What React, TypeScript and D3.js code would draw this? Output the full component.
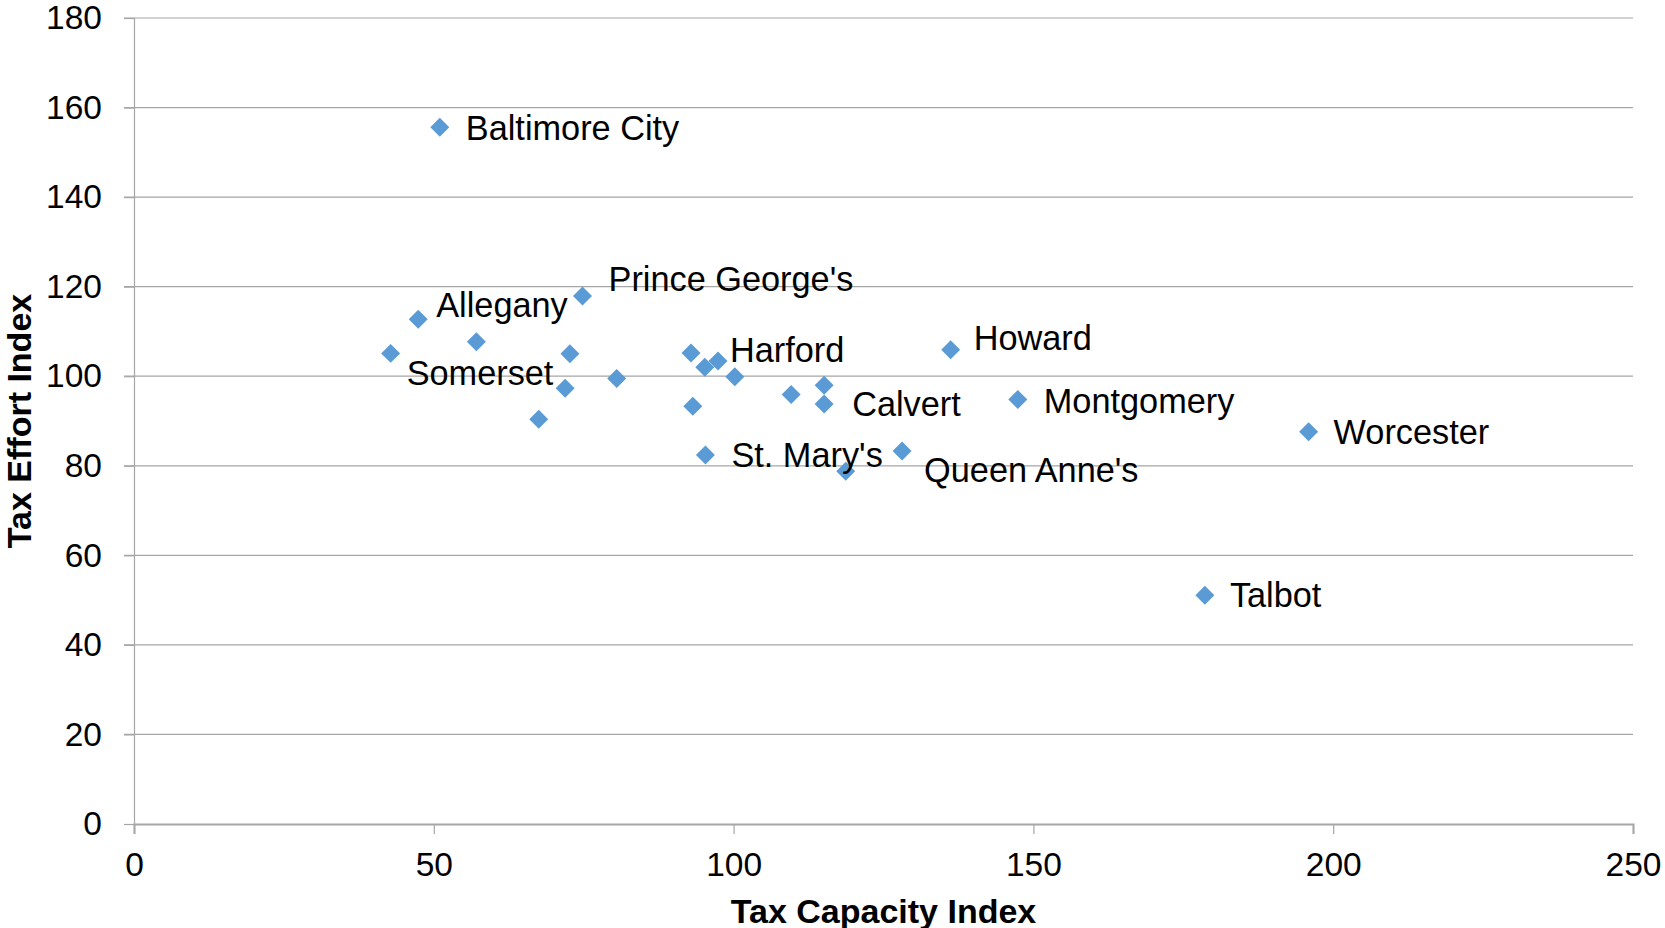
// App.tsx
import React, {useEffect, useRef} from "react";
import * as d3 from "d3";

// Tax capacity (x) vs tax effort (y), Maryland jurisdictions
const taxCapacity = [
    51.0, 47.4, 74.8, 42.8, 57.1, 72.7, 92.9, 95.2, 97.4, 100.2, 80.5, 71.9,
    109.6, 115.1, 115.1, 93.2, 67.5, 95.3, 118.7, 128.1, 136.2, 147.4, 195.9, 178.6,
];
const taxEffort = [
    155.6, 112.7, 117.9, 105.1, 107.7, 105.0, 105.2, 102.0, 103.4, 99.9, 99.5, 97.3,
    95.9, 98.0, 93.8, 93.3, 90.4, 82.4, 78.8, 83.3, 105.9, 94.8, 87.6, 51.1,
];
const pointLabels = [
    "Baltimore City", "Allegany", "Prince George's", "Somerset", "", "", "", "", "Harford", "", "", "",
    "", "", "Calvert", "", "", "St. Mary's", "", "Queen Anne's", "Howard", "Montgomery", "Worcester", "Talbot",
];
const xTicks = [0, 50, 100, 150, 200, 250];
const yTicks = [0, 20, 40, 60, 80, 100, 120, 140, 160, 180];

// label nudges (px) from each marker, like hand-moved Excel data labels
const labelShift: Record<string, [number, number]> = {
    "Baltimore City": [26, 1],
    "Allegany": [18, -14],
    "Prince George's": [26, -17],
    "Somerset": [16, 20],
    "Harford": [12, -11],
    "Calvert": [28, 0],
    "St. Mary's": [26, 0],
    "Queen Anne's": [22, 19],
    "Howard": [23, -12],
    "Montgomery": [26, 1],
    "Worcester": [25, 0],
    "Talbot": [25, 0],
};

const width = 1665;
const height = 928;

export default function App() {
    const svgRef = useRef<SVGSVGElement | null>(null);

    useEffect(() => {
        if (!svgRef.current) return;
        const svg = d3.select(svgRef.current);
        svg.selectAll("*").remove();

        const margin = {top: 18, right: 32, bottom: 104, left: 134};
        const x = d3.scaleLinear().domain([0, 250]).range([margin.left, width - margin.right]);
        const y = d3.scaleLinear().domain([0, 180]).range([height - margin.bottom, margin.top]);
        const font = "Liberation Sans, Arial, sans-serif";
        const gridColor = "#a6a6a6";

        // horizontal gridlines (start at tick length left of axis)
        svg.append("g")
            .selectAll("line")
            .data(yTicks.filter((t) => t !== 0))
            .enter()
            .append("line")
            .attr("x1", x(0) - 10)
            .attr("x2", x(250))
            .attr("y1", (d) => y(d))
            .attr("y2", (d) => y(d))
            .attr("stroke", gridColor)
            .attr("stroke-width", 1.2);

        // y axis
        const yAxis = svg.append("g")
            .attr("transform", `translate(${x(0)},0)`)
            .call(d3.axisLeft(y).tickValues(yTicks).tickSize(10).tickPadding(22));
        yAxis.select(".domain").attr("stroke", gridColor).attr("stroke-width", 1.2);
        yAxis.selectAll(".tick line").attr("stroke", gridColor).attr("stroke-width", 1.2);
        yAxis.selectAll(".tick text")
            .attr("fill", "#000")
            .style("font-family", font)
            .style("font-size", "33.5px");

        // x axis
        const xAxis = svg.append("g")
            .attr("transform", `translate(0,${y(0)})`)
            .call(d3.axisBottom(x).tickValues(xTicks).tickSize(10).tickPadding(18));
        xAxis.select(".domain").attr("stroke", gridColor).attr("stroke-width", 2);
        xAxis.selectAll(".tick line").attr("stroke", gridColor).attr("stroke-width", 1.2);
        xAxis.selectAll(".tick text")
            .attr("fill", "#000")
            .style("font-family", font)
            .style("font-size", "33.5px");

        // axis titles
        svg.append("text")
            .attr("x", (x(0) + x(250)) / 2)
            .attr("y", 911)
            .attr("dy", "0.35em")
            .attr("text-anchor", "middle")
            .style("font-family", font)
            .style("font-size", "34px")
            .style("font-weight", "bold")
            .text("Tax Capacity Index");

        svg.append("text")
            .attr("transform", `translate(19,${(y(0) + y(180)) / 2}) rotate(-90)`)
            .attr("dy", "0.35em")
            .attr("text-anchor", "middle")
            .style("font-family", font)
            .style("font-size", "34px")
            .style("font-weight", "bold")
            .text("Tax Effort Index");

        const pts = taxCapacity.map((c, i) => ({cap: c, eff: taxEffort[i], name: pointLabels[i]}));

        // diamond markers
        const diamond = d3.symbol(d3.symbolSquare, 180);
        svg.append("g")
            .selectAll("path")
            .data(pts)
            .enter()
            .append("path")
            .attr("d", diamond)
            .attr("transform", (d) => `translate(${x(d.cap)},${y(d.eff)}) rotate(45)`)
            .attr("fill", "#5b9bd5");

        // data labels
        svg.append("g")
            .selectAll("text")
            .data(pts.filter((d) => d.name))
            .enter()
            .append("text")
            .attr("x", (d) => x(d.cap) + (labelShift[d.name]?.[0] ?? 24))
            .attr("y", (d) => y(d.eff) + (labelShift[d.name]?.[1] ?? 0))
            .attr("dy", "0.35em")
            .style("font-family", font)
            .style("font-size", "34.3px")
            .style("fill", "#000")
            .text((d) => d.name);
    }, []);

    return (
        <svg
            ref={svgRef}
            width={width}
            height={height}
            style={{position: "absolute", left: 0, top: 0, background: "#fff"}}
        />
    );
}
